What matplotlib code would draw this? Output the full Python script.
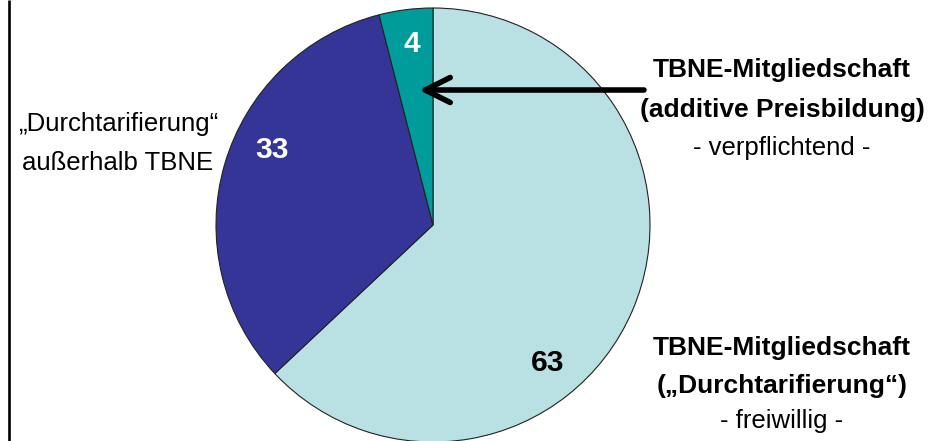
import matplotlib
matplotlib.use("Agg")
import matplotlib.pyplot as plt
from matplotlib.patches import FancyArrowPatch

# data
shares = [63, 33, 4]
share_labels = ["63", "33", "4"]
colors = ["#B9E0E3", "#353598", "#009B9B"]
label_colors = ["black", "white", "white"]

W, H = 938, 441
SANS = ["Liberation Sans", "DejaVu Sans"]


def py(y):
    # pixel row (from top) -> data y
    return H - y


fig = plt.figure(figsize=(W / 100, H / 100), dpi=100)
ax = fig.add_axes([0, 0, 1, 1])

wedges, _ = ax.pie(shares, colors=colors, startangle=90, counterclock=False,
                   center=(433, py(225)), radius=217,
                   wedgeprops=dict(edgecolor="#222222", linewidth=0.8))

ax.set_xlim(0, W)
ax.set_ylim(0, H)
ax.set_aspect("equal")
ax.axis("off")

# value labels inside the slices
label_pos = [(548, 363), (272, 150), (412, 44)]
for txt, (x, y), c in zip(share_labels, label_pos, label_colors):
    ax.text(x, py(y), txt, ha="center", va="center", fontsize=21.5,
            fontweight="bold", color=c, family=SANS)

# left annotation
ax.text(118, py(131), "„Durchtarifierung“", ha="center", va="baseline",
        fontsize=18.5, family=SANS)
ax.text(118, py(170), "außerhalb TBNE", ha="center", va="baseline",
        fontsize=18.5, family=SANS)

# upper right annotation
ax.text(782, py(77), "TBNE-Mitgliedschaft", ha="center", va="baseline",
        fontsize=19, fontweight="bold", family=SANS)
ax.text(782, py(117), "(additive Preisbildung)", ha="center", va="baseline",
        fontsize=19, fontweight="bold", family=SANS)
ax.text(782, py(155), "- verpflichtend -", ha="center", va="baseline",
        fontsize=18.5, family=SANS)

# lower right annotation
ax.text(782, py(355), "TBNE-Mitgliedschaft", ha="center", va="baseline",
        fontsize=19, fontweight="bold", family=SANS)
ax.text(782, py(393), "(„Durchtarifierung“)", ha="center", va="baseline",
        fontsize=19, fontweight="bold", family=SANS)
ax.text(782, py(428), "- freiwillig -", ha="center", va="baseline",
        fontsize=18.5, family=SANS)

# arrow pointing at the small slice
arrow = FancyArrowPatch((644, py(90)), (419, py(90)),
                        arrowstyle="->,head_length=1.2,head_width=0.6",
                        mutation_scale=15, lw=4, color="black",
                        shrinkA=0, shrinkB=0, capstyle="round")
ax.add_patch(arrow)

# frame line on the left
ax.plot([9, 9], [0, H], color="black", lw=1.9, solid_capstyle="butt")

fig.savefig("out.png", dpi=100)
